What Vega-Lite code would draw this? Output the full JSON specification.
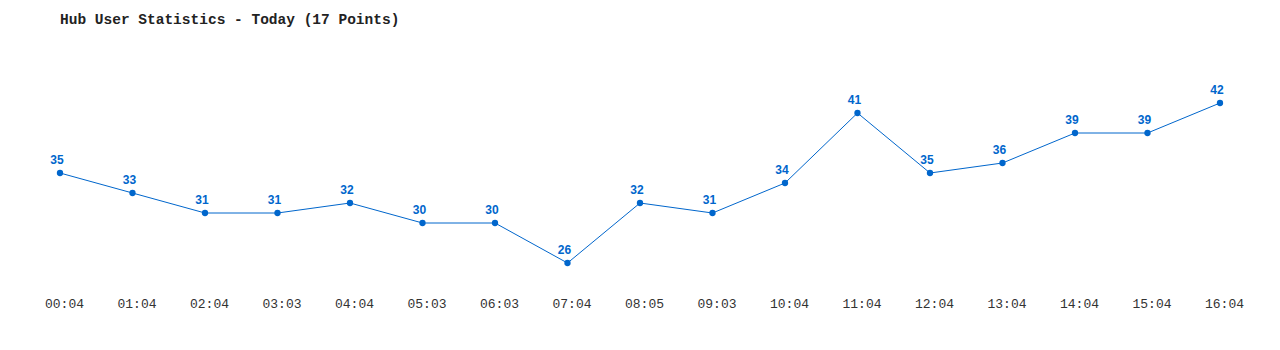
{
  "$schema": "https://vega.github.io/schema/vega-lite/v6.json",
  "autosize": {"type": "none"},
  "width": 1160,
  "height": 240,
  "padding": {"left": 60, "top": 43, "right": 60, "bottom": 67},
  "background": "white",
  "config": {"view": {"stroke": null}},
  "title": {
    "text": "Hub User Statistics - Today (17 Points)",
    "anchor": "start",
    "frame": "group",
    "font": "Liberation Mono",
    "fontSize": 14.5,
    "fontWeight": "bold",
    "color": "#222222",
    "baseline": "alphabetic",
    "offset": 5
  },
  "data": {
    "values": [
      {"time": "00:04", "users": 35},
      {"time": "01:04", "users": 33},
      {"time": "02:04", "users": 31},
      {"time": "03:03", "users": 31},
      {"time": "04:04", "users": 32},
      {"time": "05:03", "users": 30},
      {"time": "06:03", "users": 30},
      {"time": "07:04", "users": 26},
      {"time": "08:05", "users": 32},
      {"time": "09:03", "users": 31},
      {"time": "10:04", "users": 34},
      {"time": "11:04", "users": 41},
      {"time": "12:04", "users": 35},
      {"time": "13:04", "users": 36},
      {"time": "14:04", "users": 39},
      {"time": "15:04", "users": 39},
      {"time": "16:04", "users": 42}
    ]
  },
  "encoding": {
    "x": {
      "field": "time",
      "type": "ordinal",
      "sort": null,
      "scale": {"type": "point", "padding": 0},
      "axis": {
        "title": null,
        "labelAngle": 0,
        "ticks": false,
        "domain": false,
        "grid": false,
        "labelFont": "Liberation Mono",
        "labelFontSize": 13,
        "labelColor": "#333333",
        "labelBaseline": "middle",
        "labelPadding": 20,
        "labelOffset": 4,
        "labelOverlap": false
      }
    },
    "y": {
      "field": "users",
      "type": "quantitative",
      "scale": {"domain": [24, 48], "nice": false, "zero": false},
      "axis": null
    }
  },
  "layer": [
    {"mark": {"type": "line", "color": "#0066cc", "strokeWidth": 1}},
    {"mark": {"type": "point", "filled": true, "color": "#0066cc", "size": 40, "opacity": 1}},
    {
      "mark": {"type": "text", "color": "#0066cc", "font": "Liberation Sans", "fontWeight": "bold", "fontSize": 12, "dy": -13, "dx": -3, "baseline": "middle"},
      "encoding": {"text": {"field": "users", "type": "quantitative"}}
    }
  ]
}
